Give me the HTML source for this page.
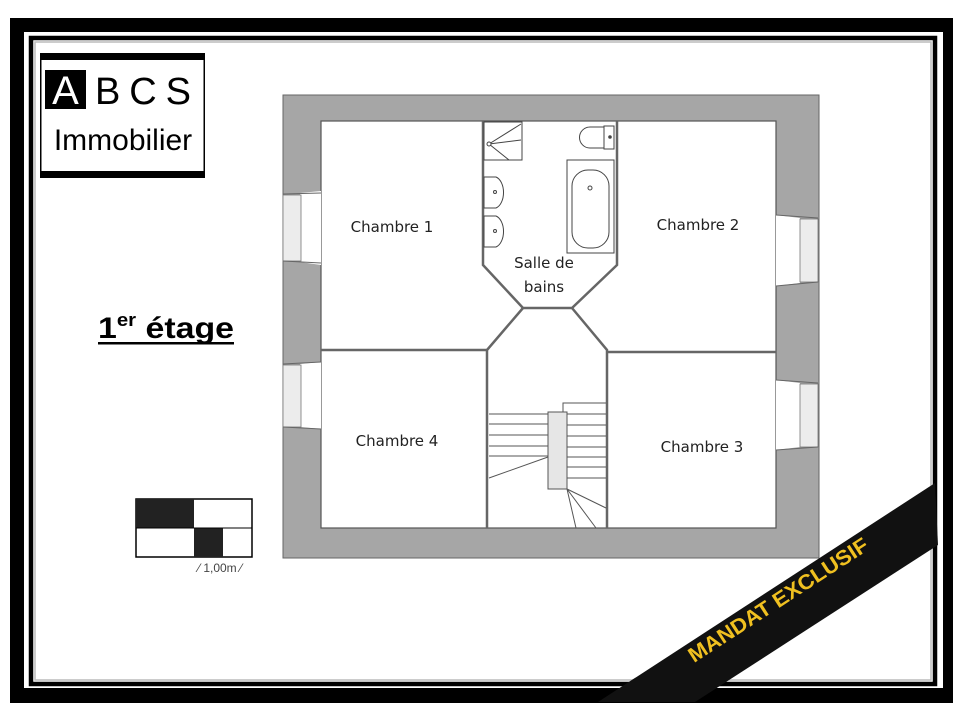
<!DOCTYPE html>
<html><head><meta charset="utf-8"><style>
html,body{margin:0;padding:0;background:#fff;width:960px;height:720px;overflow:hidden}
svg{display:block}
</style></head><body>
<svg width="960" height="720" viewBox="0 0 960 720" xmlns="http://www.w3.org/2000/svg" font-family="Liberation Sans, sans-serif">
<rect width="960" height="720" fill="#fff"/>
<!-- frame -->
<path fill="#000" fill-rule="evenodd" d="M10 18H953V703H10Z M24 32V688H943V32Z"/>
<rect x="31" y="38" width="904" height="646" fill="none" stroke="#000" stroke-width="4.5"/>
<rect x="35" y="42" width="896" height="638" fill="none" stroke="#bbb" stroke-width="1.5"/>

<!-- logo -->
<rect x="40" y="53" width="165" height="125" fill="#fff"/>
<rect x="40" y="53" width="165" height="7" fill="#000"/>
<rect x="40" y="171" width="165" height="7" fill="#000"/>
<rect x="40" y="53" width="1.5" height="125" fill="#000"/>
<rect x="203.5" y="53" width="1.5" height="125" fill="#000"/>
<rect x="45" y="70" width="41" height="39" fill="#000"/>
<text x="65.5" y="104" font-size="40" fill="#fff" text-anchor="middle">A</text>
<text x="95" y="104" font-size="38" fill="#000" textLength="96" lengthAdjust="spacing">BCS</text>
<text x="123" y="150" font-size="30" fill="#000" text-anchor="middle">Immobilier</text>

<!-- title -->
<text x="98" y="338" font-size="30" font-weight="bold" fill="#000" textLength="136" lengthAdjust="spacingAndGlyphs">1<tspan font-size="18" dy="-12">er</tspan><tspan dy="12"> étage</tspan></text>
<rect x="98" y="342" width="136" height="2.5" fill="#000"/>

<!-- scale -->
<rect x="136" y="499" width="116" height="58" fill="#fff" stroke="#000" stroke-width="1.5"/>
<rect x="136" y="499" width="58" height="29" fill="#222"/>
<rect x="194" y="528" width="29" height="29" fill="#222"/>
<line x1="136" y1="528" x2="252" y2="528" stroke="#000" stroke-width="1"/>
<text x="220" y="572" font-size="12" fill="#444" text-anchor="middle">⁄ 1,00m ⁄</text>

<!-- plan walls -->
<rect x="283" y="95" width="536" height="463" fill="#a6a6a6" stroke="#666" stroke-width="1"/>
<rect x="321" y="121" width="455" height="407" fill="#fff" stroke="#555" stroke-width="1.2"/>
<!-- left windows -->
<path d="M300 193 L321 191 V265 L300 262 Z M300 364 L321 362 V429 L300 427 Z" fill="#fff"/>
<rect x="283" y="195" width="18" height="66" fill="#ececec" stroke="#777" stroke-width="0.8"/>
<rect x="283" y="365" width="18" height="62" fill="#ececec" stroke="#777" stroke-width="0.8"/>
<path d="M283 194 L321 193 M283 261 L321 263 M283 364 L321 362 M283 427 L321 429" stroke="#666" stroke-width="1"/>
<!-- right windows -->
<path d="M776 215 L800 218 V283 L776 286 Z M776 380 L800 383 V447 L776 450 Z" fill="#fff"/>
<rect x="800" y="219" width="18" height="63" fill="#ececec" stroke="#777" stroke-width="0.8"/>
<rect x="800" y="384" width="18" height="63" fill="#ececec" stroke="#777" stroke-width="0.8"/>
<path d="M776 215 L818 218 M776 286 L818 282 M776 380 L818 383 M776 450 L818 447" stroke="#666" stroke-width="1"/>

<!-- interior walls -->
<g fill="none" stroke="#666" stroke-width="2.5">
<path d="M483 121 V265 L523 308 H572 L617 265 V121"/>
<path d="M523 308 L487 350 V528"/>
<path d="M572 308 L607 350 V528"/>
<path d="M321 350 H487"/>
<path d="M607 352 H776"/>
</g>

<!-- bathroom fixtures -->
<g fill="#fff" stroke="#444" stroke-width="1">
<rect x="484" y="122" width="38" height="38"/>
<path d="M489 144 L521 124 M489 144 L521 140 M489 144 L509 160"/>
<circle cx="489" cy="144" r="2"/>
<path d="M604 127 H590 A10 10 0 0 0 590 148 H604 Z"/>
<rect x="604" y="126" width="10" height="23"/>
<circle cx="610" cy="137" r="1.3" fill="#444"/>
<rect x="567" y="160" width="47" height="93"/>
<rect x="572" y="170" width="37" height="78" rx="16"/>
<circle cx="590" cy="188" r="2"/>
<path d="M484 177 H496 A10 16 0 0 1 496 208 H484 Z"/>
<path d="M484 216 H496 A10 16 0 0 1 496 247 H484 Z"/>
<circle cx="495" cy="192" r="1.5"/><circle cx="495" cy="231" r="1.5"/>
</g>

<!-- stairs -->
<g stroke="#555" stroke-width="1" fill="none">
<path d="M489 414 H548 M489 424 H548 M489 435 H548 M489 446 H548 M489 456 H548 M548 457 L489 478"/>
<rect x="548" y="412" width="19" height="77" fill="#e6e6e6"/>
<path d="M563 412 V403 H606"/>
<path d="M567 414 H606 M567 425 H606 M567 436 H606 M567 447 H606 M567 457 H606 M567 467 H606 M567 478 H606"/>
<path d="M567 489 L606 508 M567 489 L596 528 M567 489 L576 528"/>
</g>

<!-- room labels -->
<g font-size="15" fill="#222" text-anchor="middle" font-family="DejaVu Sans, Liberation Sans, sans-serif">
<text x="392" y="232">Chambre 1</text>
<text x="698" y="230">Chambre 2</text>
<text x="702" y="452">Chambre 3</text>
<text x="397" y="446">Chambre 4</text>
<text x="544" y="268">Salle de</text>
<text x="544" y="292">bains</text>
</g>

<!-- banner -->
<polygon points="598,702 935,483 938,545 695,702" fill="#111"/>
<text font-size="21" font-weight="bold" fill="#f0c020" text-anchor="middle" transform="translate(782,606) rotate(-33)" textLength="210" lengthAdjust="spacingAndGlyphs">MANDAT EXCLUSIF</text>
</svg>
</body></html>
